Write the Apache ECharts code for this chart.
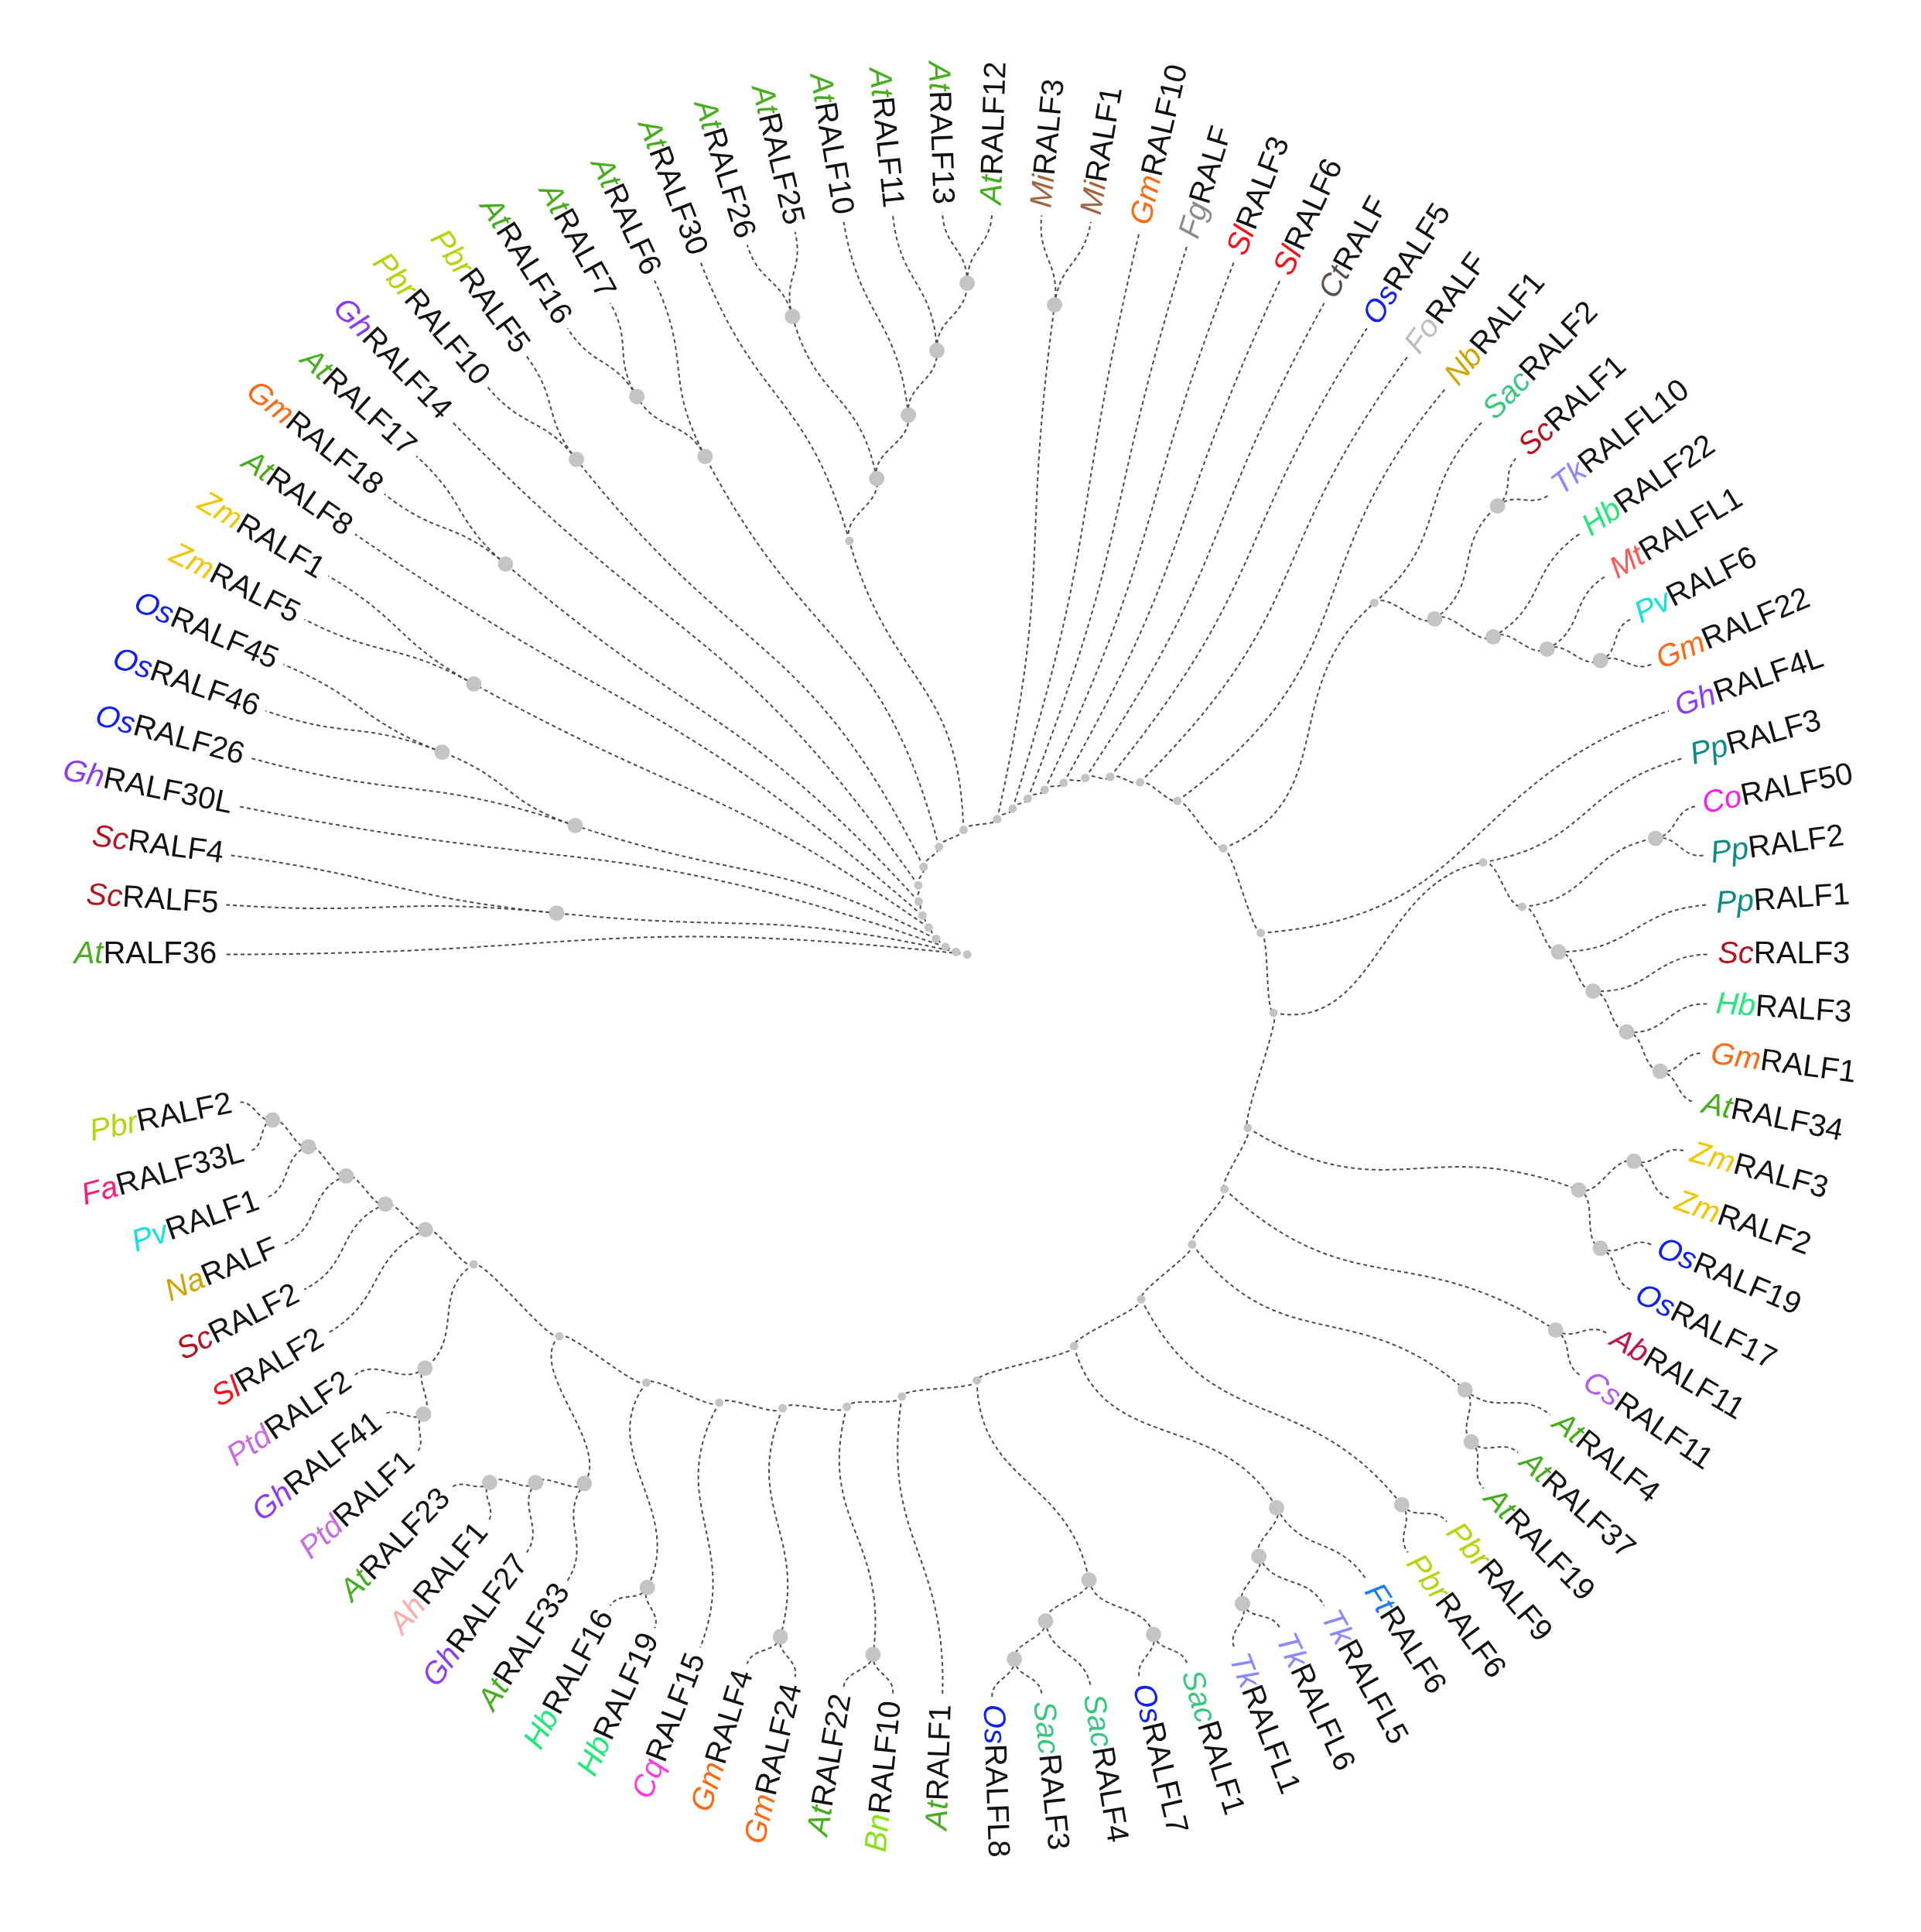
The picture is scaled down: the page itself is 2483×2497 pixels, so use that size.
<!DOCTYPE html>
<html>
<head>
<meta charset="utf-8">
<script src="https://cdn.jsdelivr.net/npm/echarts@6/dist/echarts.min.js"></script>
<style>html,body{margin:0;background:#fff}#main{width:2483px;height:2497px}</style>
</head>
<body>
<div id="main"></div>
<script>
// ladder(['a','b','c']) -> ['a',['b','c']]
function ladder(items) {
    let t = items[items.length - 1];
    for (let i = items.length - 2; i >= 0; i--) t = [items[i], t];
    return t;
}

// leaf order runs clockwise from AtRALF36 (9 o'clock)
const scClade = ['ScRALF5', 'ScRALF4'];
const osClade = ['OsRALF26', ['OsRALF46', 'OsRALF45']];
const zmClade = ['ZmRALF5', 'ZmRALF1'];
const gmAtClade = ['GmRALF18', 'AtRALF17'];
const pbrClade = ['PbrRALF10', 'PbrRALF5'];
const at16Clade = [['AtRALF16', 'AtRALF7'], 'AtRALF6'];
const at30Clade = ['AtRALF30', [['AtRALF26', 'AtRALF25'], ladder(['AtRALF10', 'AtRALF11', 'AtRALF13', 'AtRALF12'])]];
const miClade = ['MiRALF3', 'MiRALF1'];
const sacClade = ['SacRALF2', [['ScRALF1', 'TkRALFL10'], ladder(['HbRALF22', 'MtRALFL1', 'PvRALF6', 'GmRALF22'])]];
const ppClade = ['PpRALF3', [['CoRALF50', 'PpRALF2'], ladder(['PpRALF1', 'ScRALF3', 'HbRALF3', 'GmRALF1', 'AtRALF34'])]];
const monoClade = [['ZmRALF3', 'ZmRALF2'], ['OsRALF19', 'OsRALF17']];
const abClade = ['AbRALF11', 'CsRALF11'];
const at4Clade = ['AtRALF4', ['AtRALF37', 'AtRALF19']];
const pbr9Clade = ['PbrRALF9', 'PbrRALF6'];
const tkClade = ['FtRALF6', ladder(['TkRALFL5', 'TkRALFL6', 'TkRALFL1'])];
const sac1Clade = [['SacRALF1', 'OsRALFL7'], ladder(['SacRALF4', 'SacRALF3', 'OsRALFL8'])];
const at33Clade = ladder(['AtRALF33', 'GhRALF27', 'AhRALF1', 'AtRALF23']);
const ptdClade = [[['PtdRALF1', 'GhRALF41'], 'PtdRALF2'], ladder(['SlRALF2', 'ScRALF2', 'NaRALF', 'PvRALF1', 'FaRALF33L', 'PbrRALF2'])];
const bottomClade = ladder(['AtRALF1', ['BnRALF10', 'AtRALF22'], ['GmRALF24', 'GmRALF4'], 'CqRALF15',
    ['HbRALF19', 'HbRALF16'], [at33Clade, ptdClade]]);

const rightSide = ladder(['GhRALF4L', ppClade, monoClade, abClade, at4Clade, pbr9Clade, tkClade, sac1Clade, bottomClade]);
const tree = ladder(['AtRALF36', scClade, 'GhRALF30L', osClade, zmClade, 'AtRALF8', gmAtClade, 'GhRALF14', pbrClade,
    at16Clade, at30Clade, miClade, 'GmRALF10', 'FgRALF', 'SlRALF3', 'SlRALF6', 'CtRALF', 'OsRALF5', 'FoRALF', 'NbRALF1',
    sacClade, rightSide]);

const slotCount = 94; // 92 leaves + gap

const prefixColors = {
    At: '#46ad1c', Sc: '#b3121e', Gh: '#8a3cf5', Os: '#1020f0', Zm: '#f5c400', Gm: '#fb6a12', Pbr: '#b4d40c',
    Mi: '#a2643c', Fg: '#8a8a8a', Sl: '#f5101a', Ct: '#5a5048', Fo: '#bdbdbd', Nb: '#d0a400', Sac: '#36c97e',
    Tk: '#8888ff', Hb: '#22e87a', Mt: '#ff5656', Pv: '#14e0e0', Pp: '#0b8a86', Co: '#ff1cf0', Ab: '#c4104c',
    Cs: '#b25cf2', Ft: '#1c7cff', Bn: '#86e21a', Cq: '#ff3ce0', Ah: '#ffaaa6', Ptd: '#c86ae0', Na: '#d0a400', Fa: '#ff1a7a'
};

// layout: leaf slots -> angle, depth/height -> radius
let leafIdx = 0;
const edges = [], nodes = [], leaves = [];
function walk(n, d) {
    if (typeof n === 'string') {
        const a = leafIdx++;
        leaves.push([1, a, n]);
        return {a: a, r: 1, h: 0, leaves: 1};
    }
    const kids = n.map(c => walk(c, d + 1));
    const h = Math.max(...kids.map(k => k.h)) + 1;
    const a = kids.reduce((s, k) => s + k.a, 0) / kids.length;
    const r = d / (d + h * 1.6);
    kids.forEach(k => edges.push([r, a, k.r, k.a]));
    const nl = kids.reduce((s, k) => s + k.leaves, 0);
    nodes.push([r, a, nl <= 6 ? 20 : 11]);
    return {a: a, r: r, h: h, leaves: nl};
}
walk(tree, 0);

function labelText(name) {
    const m = name.match(/^([A-Z][a-z]*)(.*)$/);
    return {p: m[1], rest: m[2]};
}

const chart = echarts.init(document.getElementById('main'));
chart.setOption({
    backgroundColor: '#fff',
    polar: {center: ['50.35%', '49.4%'], radius: 960},
    angleAxis: {type: 'value', min: 0, max: slotCount, startAngle: 180, clockwise: true, show: false},
    radiusAxis: {type: 'value', min: 0, max: 1, show: false},
    series: [{
        type: 'custom', coordinateSystem: 'polar', data: edges, silent: true,
        encode: {radius: [0, 2], angle: [1, 3]},
        renderItem: function (params, api) {
            const rp = api.value(0), ap = api.value(1), rc = api.value(2), ac = api.value(3);
            const rm = (rp + rc) / 2;
            const p0 = api.coord([rp, ap]), c1 = api.coord([rm, ap]), c2 = api.coord([rm, ac]), p3 = api.coord([rc, ac]);
            return {
                type: 'bezierCurve',
                shape: {x1: p0[0], y1: p0[1], cpx1: c1[0], cpy1: c1[1], cpx2: c2[0], cpy2: c2[1], x2: p3[0], y2: p3[1]},
                style: {stroke: '#4a4a4a', lineWidth: 2, lineDash: [5, 4], fill: null}
            };
        }
    }, {
        type: 'custom', coordinateSystem: 'polar', data: nodes, silent: true,
        encode: {radius: 0, angle: 1},
        renderItem: function (params, api) {
            const p = api.coord([api.value(0), api.value(1)]);
            return {type: 'circle', shape: {cx: p[0], cy: p[1], r: api.value(2) / 2}, style: {fill: '#c4c4c4'}};
        }
    }, {
        type: 'custom', coordinateSystem: 'polar', silent: true,
        data: leaves.map(l => [l[0], l[1]]),
        encode: {radius: 0, angle: 1},
        renderItem: function (params, api) {
            const name = leaves[params.dataIndex][2];
            const c = api.coord([0, 0]);
            const p = api.coord([1, api.value(1)]);
            const th = Math.atan2(p[1] - c[1], p[0] - c[0]);
            const x = p[0] + Math.cos(th) * 10, y = p[1] + Math.sin(th) * 10;
            const right = Math.cos(th) >= 0;
            const t = labelText(name);
            return {
                type: 'text', x: x, y: y,
                rotation: right ? -th : -(th + Math.PI),
                style: {
                    text: '{p|' + t.p + '}{n|' + t.rest + '}',
                    align: right ? 'left' : 'right', verticalAlign: 'middle',
                    rich: {
                        p: {fill: prefixColors[t.p] || '#000', fontSize: 40, fontStyle: 'italic', fontFamily: 'Liberation Sans'},
                        n: {fill: '#111', fontSize: 40, fontFamily: 'Liberation Sans'}
                    }
                }
            };
        }
    }]
});
</script>
</body>
</html>
